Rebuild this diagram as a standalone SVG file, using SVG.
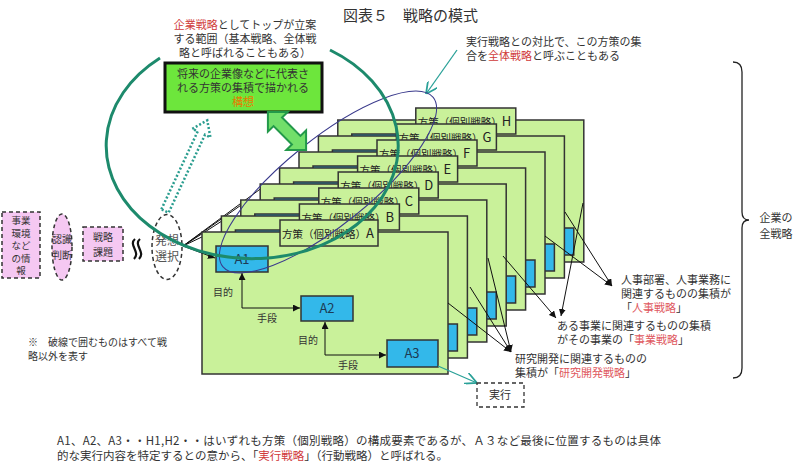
<svg xmlns="http://www.w3.org/2000/svg" width="800" height="464" viewBox="0 0 800 464">
<defs>
<style>
text{font-family:"Noto Sans CJK JP","Noto Sans",sans-serif;fill:#333}
.t11{font-size:11px}
.t10{font-size:10px}
.t9{font-size:9.5px}
.red{fill:#d03a3a}
.pink{fill:#e0585e}
.body{fill:#c9f19a;stroke:#333;stroke-width:1.5}
.tab{fill:#c9f19a;stroke:#333;stroke-width:1.5}
.blue{fill:#33b8ea;stroke:#333;stroke-width:1.5}
.tabt{font-size:10.5px;fill:#222}
.let{font-size:13px}
.dash{fill:#f5c8f2;stroke:#333;stroke-width:1.5;stroke-dasharray:4 3}
.ln{stroke:#111;stroke-width:1;fill:none}
</style>
<marker id="ah" viewBox="0 0 10 10" refX="10" refY="5" markerWidth="7" markerHeight="7" orient="auto"><path d="M0,0 L10,5 L0,10 z" fill="#111"/></marker>
<marker id="ta" viewBox="0 0 10 10" refX="10" refY="5" markerWidth="9" markerHeight="9" orient="auto"><path d="M0,0 L10,5 L0,10" fill="none" stroke="#2aa198" stroke-width="1.5"/></marker>
</defs>
<rect width="800" height="464" fill="#fff"/>

<text x="343" y="21" style="font-size:15px">図表５　戦略の模式</text>

<g id="top-note">
<text class="t11" x="245" y="29" text-anchor="middle"><tspan class="red">企業戦略</tspan>としてトップが立案</text>
<text class="t11" x="245" y="43" text-anchor="middle">する範囲（基本戦略、全体戦</text>
<text class="t11" x="245" y="57" text-anchor="middle">略と呼ばれることもある）</text>
</g>

<g id="kousou">
<rect x="165" y="63" width="157" height="49" fill="#6de63c" stroke="#111" stroke-width="3"/>
<text class="t11" x="243" y="78" text-anchor="middle">将来の企業像などに代表さ</text>
<text class="t11" x="243" y="92" text-anchor="middle">れる方策の集積で描かれる</text>
<text class="t11" x="243" y="106" text-anchor="middle" style="fill:#e87a00">構想</text>
</g>

<g id="zentai-note">
<text class="t11" x="466" y="46">実行戦略との対比で、この方策の集</text>
<text class="t11" x="466" y="60">合を<tspan class="red">全体戦略</tspan>と呼ぶこともある</text>
</g>

<g id="info">
<rect class="dash" x="2" y="212" width="38" height="66"/>
<text class="t9" x="21" y="224" text-anchor="middle">事業</text>
<text class="t9" x="21" y="236.5" text-anchor="middle">環境</text>
<text class="t9" x="21" y="249" text-anchor="middle">など</text>
<text class="t9" x="21" y="261.5" text-anchor="middle">の情</text>
<text class="t9" x="21" y="274" text-anchor="middle">報</text>
</g>
<g id="ninshiki">
<ellipse class="dash" cx="62" cy="247" rx="10" ry="33"/>
<text class="t10" x="62" y="243" text-anchor="middle">認識</text>
<text class="t10" x="62" y="259" text-anchor="middle">判断</text>
</g>
<g id="kadai">
<rect class="dash" x="83" y="227" width="40" height="34"/>
<text class="t10" x="103" y="241" text-anchor="middle">戦略</text>
<text class="t10" x="103" y="256" text-anchor="middle">課題</text>
</g>
<g id="wave">
<path d="M135,239 C128,245 141,252 134,259" fill="none" stroke="#111" stroke-width="2.2"/>
<path d="M140,239 C133,245 146,252 139,259" fill="none" stroke="#111" stroke-width="2.2"/>
</g>
<g id="hassou">
<ellipse cx="167" cy="247" rx="15" ry="32.5" fill="#fff" stroke="#333" stroke-width="1.5" stroke-dasharray="4 3"/>
<text x="167" y="245" text-anchor="middle" style="font-size:12px;fill:#555">発想</text>
<text x="167" y="261" text-anchor="middle" style="font-size:12px;fill:#555">選択</text>
</g>

<g id="note">
<text class="t10" x="28" y="346">※　破線で囲むものはすべて戦</text>
<text class="t10" x="28" y="360">略以外を表す</text>
</g>

<g id="fan">
<line class="ln" x1="183" y1="246" x2="206" y2="235"/>
<line class="ln" x1="183" y1="246" x2="225" y2="219"/>
<line class="ln" x1="183" y1="246" x2="244" y2="203"/>
<line class="ln" x1="183" y1="246" x2="263" y2="187"/>
</g>

<g id="card-H" transform="translate(135.8,-112)">
<rect class="body" x="202" y="232" width="246" height="142"/>
<rect class="blue" x="216" y="246" width="52" height="26"/>
<rect class="blue" x="387" y="340" width="51" height="27"/>
<rect class="tab" x="280" y="220" width="100" height="26"/>
<text class="tabt" x="282" y="238">方策（個別戦略）<tspan class="let">H</tspan></text>
</g>
<g id="card-G" transform="translate(116.4,-96)">
<rect class="body" x="202" y="232" width="246" height="142"/>
<rect class="blue" x="216" y="246" width="52" height="26"/>
<rect class="blue" x="387" y="340" width="51" height="27"/>
<rect class="tab" x="280" y="220" width="100" height="26"/>
<text class="tabt" x="282" y="238">方策（個別戦略）<tspan class="let">G</tspan></text>
</g>
<g id="card-F" transform="translate(97,-80)">
<rect class="body" x="202" y="232" width="246" height="142"/>
<rect class="blue" x="216" y="246" width="52" height="26"/>
<rect class="blue" x="387" y="340" width="51" height="27"/>
<rect class="tab" x="280" y="220" width="100" height="26"/>
<text class="tabt" x="282" y="238">方策（個別戦略）<tspan class="let">F</tspan></text>
</g>
<g id="card-E" transform="translate(77.6,-64)">
<rect class="body" x="202" y="232" width="246" height="142"/>
<rect class="blue" x="216" y="246" width="52" height="26"/>
<rect class="blue" x="387" y="340" width="51" height="27"/>
<rect class="tab" x="280" y="220" width="100" height="26"/>
<text class="tabt" x="282" y="238">方策（個別戦略）<tspan class="let">E</tspan></text>
</g>
<g id="card-D" transform="translate(58.2,-48)">
<rect class="body" x="202" y="232" width="246" height="142"/>
<rect class="blue" x="216" y="246" width="52" height="26"/>
<rect class="blue" x="387" y="340" width="51" height="27"/>
<rect class="tab" x="280" y="220" width="100" height="26"/>
<text class="tabt" x="282" y="238">方策（個別戦略）<tspan class="let">D</tspan></text>
</g>
<g id="card-C" transform="translate(38.8,-32)">
<rect class="body" x="202" y="232" width="246" height="142"/>
<rect class="blue" x="216" y="246" width="52" height="26"/>
<rect class="blue" x="387" y="340" width="51" height="27"/>
<rect class="tab" x="280" y="220" width="100" height="26"/>
<text class="tabt" x="282" y="238">方策（個別戦略）<tspan class="let">C</tspan></text>
</g>
<g id="card-B" transform="translate(19.4,-16)">
<rect class="body" x="202" y="232" width="246" height="142"/>
<rect class="blue" x="216" y="246" width="52" height="26"/>
<rect class="blue" x="387" y="340" width="51" height="27"/>
<rect class="tab" x="280" y="220" width="100" height="26"/>
<text class="tabt" x="282" y="238">方策（個別戦略）<tspan class="let">B</tspan></text>
</g>
<g id="card-A">
<rect class="body" x="202" y="232" width="246" height="142"/>
<rect class="tab" x="280" y="220" width="98" height="26"/>
<text class="tabt" x="282" y="238">方策（個別戦略）<tspan class="let">A</tspan></text>
<g id="A1"><rect class="blue" x="216" y="246" width="52" height="26"/><text x="242" y="264" text-anchor="middle" style="font-size:13px;fill:#1d3b55">A1</text></g>
<g id="A2"><rect class="blue" x="301" y="296" width="52" height="25"/><text x="327" y="313" text-anchor="middle" style="font-size:13px;fill:#1d3b55">A2</text></g>
<g id="A3"><rect class="blue" x="387" y="340" width="51" height="27"/><text x="412" y="358" text-anchor="middle" style="font-size:13px;fill:#1d3b55">A3</text></g>
<text class="t10" x="223" y="296" text-anchor="middle">目的</text>
<text class="t10" x="267" y="322" text-anchor="middle">手段</text>
<text class="t10" x="308" y="344" text-anchor="middle">目的</text>
<text class="t10" x="348" y="369" text-anchor="middle">手段</text>
</g>

<g id="connectors">
<line class="ln" x1="183" y1="246" x2="215" y2="258" marker-end="url(#ah)"/>
<polyline class="ln" points="242,308 242,273" marker-end="url(#ah)"/>
<polyline class="ln" points="242,308 300,308" marker-end="url(#ah)"/>
<polyline class="ln" points="325,355 325,322" marker-end="url(#ah)"/>
<polyline class="ln" points="325,355 386,355" marker-end="url(#ah)"/>
<line class="ln" x1="448" y1="303" x2="511" y2="352" marker-end="url(#ah)"/>
<line class="ln" x1="470" y1="287" x2="511" y2="352" marker-end="url(#ah)"/>
<line class="ln" x1="488" y1="258" x2="511" y2="352" marker-end="url(#ah)"/>
<line class="ln" x1="503" y1="256" x2="556" y2="318" marker-end="url(#ah)"/>
<line class="ln" x1="583" y1="203" x2="561" y2="316" marker-end="url(#ah)"/>
<line class="ln" x1="545" y1="236" x2="612" y2="286" marker-end="url(#ah)"/>
<line class="ln" x1="565" y1="212" x2="612" y2="286" marker-end="url(#ah)"/>
<line x1="438" y1="366" x2="477" y2="383" stroke="#2aa198" stroke-width="1.3" marker-end="url(#ta)"/>
<line x1="457" y1="50" x2="426" y2="94" stroke="#2aa198" stroke-width="1.3" marker-end="url(#ta)"/>
</g>

<g id="overlays">
<ellipse cx="328" cy="182" rx="135" ry="43" transform="rotate(-38.8 328 182)" fill="none" stroke="#3a3a8c" stroke-width="1"/>
<path d="M330,50 A146,113 0 1 1 160,58" fill="none" stroke="#1d8a6c" stroke-width="3"/>
<path transform="translate(165,211) rotate(-65)" d="M0,-4 L86,-4 L86,-10 L100,0 L86,10 L86,4 L0,4 Z" fill="none" stroke="#2a9d8f" stroke-width="2.5" stroke-dasharray="2 2"/>
<path transform="translate(287,131) rotate(45)" d="M-27,0 L-13,-14 L-13,-6 L13,-6 L13,-14 L27,0 L13,14 L13,6 L-13,6 L-13,14 Z" fill="#72df6a" stroke="#23994a" stroke-width="2"/>
</g>

<g id="jikkou">
<rect x="477" y="383" width="47" height="24" fill="#fff" stroke="#333" stroke-width="1.3" stroke-dasharray="4 3"/>
<text class="t11" x="500" y="399" text-anchor="middle">実行</text>
</g>

<g id="labels">
<text class="t11" x="621" y="284">人事部署、人事業務に</text>
<text class="t11" x="621" y="298">関連するものの集積が</text>
<text class="t11" x="621" y="312">「<tspan class="pink">人事戦略</tspan>」</text>
<text class="t11" x="557" y="330">ある事業に関連するものの集積</text>
<text class="t11" x="557" y="344">がその事業の「<tspan class="pink">事業戦略</tspan>」</text>
<text class="t11" x="515" y="363">研究開発に関連するものの</text>
<text class="t11" x="515" y="377">集積が「<tspan class="pink">研究開発戦略</tspan>」</text>
</g>

<g id="brace">
<path d="M733,62 Q742,62 742,72 L742,212 Q742,220 749,220 Q742,220 742,228 L742,368 Q742,378 733,378" fill="none" stroke="#222" stroke-width="1.3"/>
<text class="t11" x="776" y="222" text-anchor="middle">企業の</text>
<text class="t11" x="776" y="238" text-anchor="middle">全戦略</text>
</g>

<g id="bottom">
<text x="57" y="445" style="font-size:11.5px" textLength="604" lengthAdjust="spacing">A1、A2、A3・・H1,H2・・はいずれも方策（個別戦略）の構成要素であるが、Ａ３など最後に位置するものは具体</text>
<text x="57" y="460" style="font-size:11.5px">的な実行内容を特定するとの意から、「<tspan class="red">実行戦略</tspan>」（行動戦略）と呼ばれる。</text>
</g>
</svg>
